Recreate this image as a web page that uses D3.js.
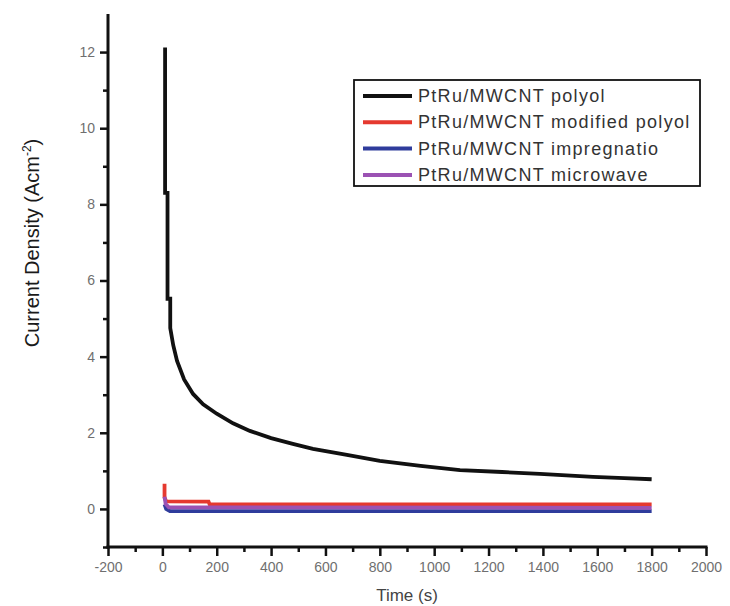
<!DOCTYPE html>
<html>
<head>
<meta charset="utf-8">
<script src="https://cdn.jsdelivr.net/npm/d3@7"></script>
<style>
body{margin:0;background:#fff;}
#canvas{width:730px;height:606px;}
text{font-family:Arial,"Liberation Sans",sans-serif;}
</style>
</head>
<body>
<div id="canvas" class="canvas"></div>
<script>
// data (time in s, current density)
var seriesNames = ['PtRu/MWCNT polyol','PtRu/MWCNT modified polyol','PtRu/MWCNT impregnatio','PtRu/MWCNT microwave'];
var seriesColors = ['#111111','#e5392f','#2f3c9c','#9b52b3'];

var polyol = [[10,12.12],[10,8.3],[19,8.3],[19,5.52],[29,5.52],[29,4.75],[40,4.3],[54,3.89],[80,3.4],[113,3.02],[150,2.75],[200,2.5],[260,2.25],[322,2.05],[400,1.86],[480,1.71],[554,1.58],[679,1.42],[800,1.26],[950,1.13],[1095,1.02],[1250,0.97],[1389,0.92],[1584,0.84],[1700,0.81],[1800,0.78]];
var modified = [[8,0.66],[8,0.3],[14,0.2],[170,0.19],[174,0.12],[1800,0.12]];
var impreg = [[8,0.12],[14,0.0],[28,-0.06],[1800,-0.06]];
var microwave = [[8,0.32],[12,0.13],[24,0.04],[1800,0.03]];

var xTicks = [-200,0,200,400,600,800,1000,1200,1400,1600,1800,2000];
var yTicks = [0,2,4,6,8,10,12];

var m = {t:14,r:24,b:59,l:108};
var outerWidth = 730, outerHeight = 606;
var w = outerWidth - m.l - m.r,
    h = outerHeight - m.t - m.b;

var svg = d3.select('.canvas')
    .append('svg')
    .attr('width',outerWidth)
    .attr('height',outerHeight);

var plot = svg.append('g')
    .attr('transform','translate(' + m.l + ',' + m.t + ')');

var scaleX = d3.scaleLinear().domain([-200,2000]).range([0,w]);
var scaleY = d3.scaleLinear().domain([-1,13]).range([h,0]);

function darken(g, sw){
    g.selectAll('line').attr('stroke','#111').attr('stroke-width',sw);
    g.select('.domain').remove();
}

// minor ticks first
plot.append('g')
    .attr('transform','translate(0,' + h + ')')
    .call(d3.axisBottom(scaleX).tickValues(d3.range(-100,2000,200)).tickSize(5).tickFormat(''))
    .call(function(g){ darken(g,2.5); });

plot.append('g')
    .call(d3.axisLeft(scaleY).tickValues(d3.range(-1,13,2)).tickSize(5).tickFormat(''))
    .call(function(g){ darken(g,2.5); });

// major axes
var axisX = plot.append('g')
    .attr('transform','translate(0,' + h + ')')
    .call(d3.axisBottom(scaleX).tickValues(xTicks).tickSize(9).tickSizeOuter(0).tickPadding(6).tickFormat(function(d){ return String(d); }));

var axisY = plot.append('g')
    .call(d3.axisLeft(scaleY).tickValues(yTicks).tickSize(8).tickSizeOuter(0).tickPadding(5).tickFormat(function(d){ return String(d); }));

[axisX, axisY].forEach(function(a){
    darken(a, 2.5);
    a.selectAll('text').attr('fill','#6f6f6f').style('font-size','14px');
});

// axis lines as filled bars
plot.append('rect')
    .attr('x',-1.5).attr('y',h - 1.5).attr('width',w + 3).attr('height',3)
    .attr('fill','#111');
plot.append('rect')
    .attr('x',-1.5).attr('y',0).attr('width',3).attr('height',h + 1.5)
    .attr('fill','#111');

// lines
var line = d3.line()
    .x(function(d){ return scaleX(d[0]); })
    .y(function(d){ return scaleY(d[1]); });

var lines = [polyol, modified, impreg, microwave];
lines.forEach(function(data, i){
    plot.append('path')
        .datum(data)
        .attr('d', line)
        .attr('fill','none')
        .attr('stroke', seriesColors[i])
        .attr('stroke-width', 3.8)
        .attr('stroke-linejoin','miter');
});

// axis titles
svg.append('text')
    .attr('x', 407).attr('y', 601)
    .attr('text-anchor','middle')
    .attr('fill','#444')
    .style('font-size','17px')
    .text('Time (s)');

var yt = svg.append('text')
    .attr('transform','translate(39,243) rotate(-90)')
    .attr('text-anchor','middle')
    .attr('fill','#1a1a1a')
    .style('font-size','20px');
yt.append('tspan').text('Current Density (Acm');
yt.append('tspan').attr('dy',-8).style('font-size','12px').text('-2');
yt.append('tspan').attr('dy',8).text(')');

// legend
var legend = svg.append('g').attr('transform','translate(354,80)');
legend.append('rect')
    .attr('width',346).attr('height',106)
    .attr('fill','#fff').attr('stroke','#111').attr('stroke-width',1.8);

var rows = legend.selectAll('.row')
    .data(seriesNames)
    .enter()
    .append('g')
    .attr('class','row')
    .attr('transform', function(d,i){ return 'translate(0,' + (16 + i*26.3) + ')'; });

rows.append('line')
    .attr('x1',9).attr('x2',58)
    .attr('stroke', function(d,i){ return seriesColors[i]; })
    .attr('stroke-width',4);

rows.append('text')
    .attr('x',64).attr('y',6)
    .attr('fill','#333')
    .style('font-size','18px')
    .style('letter-spacing','1.3px')
    .text(function(d){ return d; });
</script>
</body>
</html>
